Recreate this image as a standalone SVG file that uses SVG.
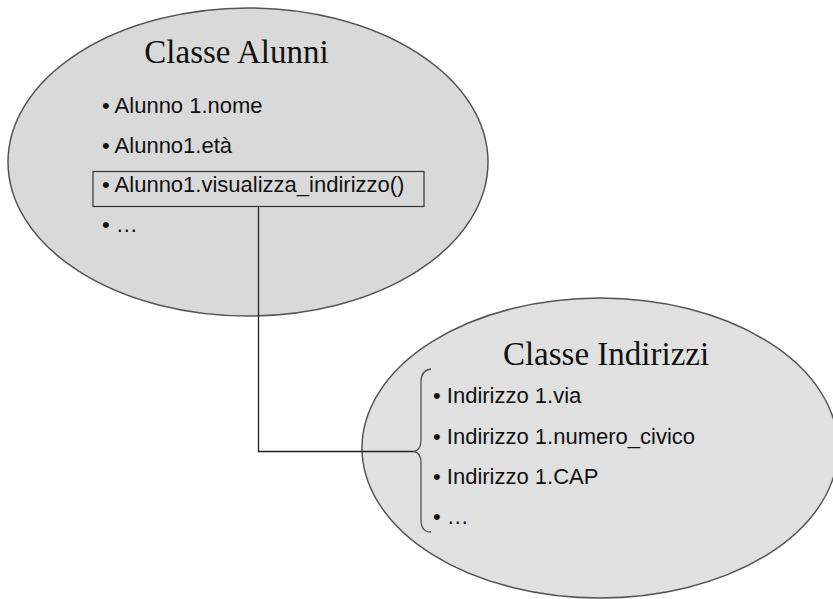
<svg xmlns="http://www.w3.org/2000/svg" width="833" height="599" viewBox="0 0 833 599">
  <style>
    .cls { stroke: #555555; stroke-width: 1.5; }
    .title { font-family: "Liberation Serif", "Times New Roman", serif; font-size: 33px; fill: #111; text-anchor: middle; }
    .item { font-family: "Liberation Sans", Arial, sans-serif; font-size: 22px; fill: #111; }
    .link { fill: none; stroke: #222; stroke-width: 1.3; }
    .brace { fill: none; stroke: #555; stroke-width: 1.3; }
  </style>
  <rect width="833" height="599" fill="#ffffff"/>

  <!-- Class: Alunni -->
  <g id="classe-alunni">
    <ellipse class="cls" cx="248" cy="162" rx="240" ry="154" fill="#d9d9d9"/>
    <text class="title" x="236.5" y="63">Classe Alunni</text>
    <text class="item" x="102" y="113">• Alunno 1.nome</text>
    <text class="item" x="102" y="153">• Alunno1.età</text>
    <rect x="93" y="171.5" width="331" height="35" fill="none" stroke="#333" stroke-width="1.2"/>
    <text class="item" x="102" y="192">• Alunno1.visualizza_indirizzo()</text>
    <text class="item" x="102" y="232">• …</text>
  </g>

  <!-- Class: Indirizzi -->
  <g id="classe-indirizzi">
    <ellipse class="cls" cx="600" cy="448" rx="238" ry="150" fill="#e0e0e0"/>
    <text class="title" x="606" y="365">Classe Indirizzi</text>
    <text class="item" x="433" y="403">• Indirizzo 1.via</text>
    <text class="item" x="433" y="443.5">• Indirizzo 1.numero_civico</text>
    <text class="item" x="433" y="484">• Indirizzo 1.CAP</text>
    <text class="item" x="433" y="524">• …</text>
    <path class="brace" d="M431,369 Q421,370 421,382 L421,440 Q421,451 413,451.5 Q421,452 421,463 L421,520 Q421,532 431,532"/>
  </g>

  <!-- Connector from method to address members -->
  <g id="connectors">
    <path class="link" d="M258.5,206.5 L258.5,451.5 L413,451.5"/>
  </g>
</svg>
